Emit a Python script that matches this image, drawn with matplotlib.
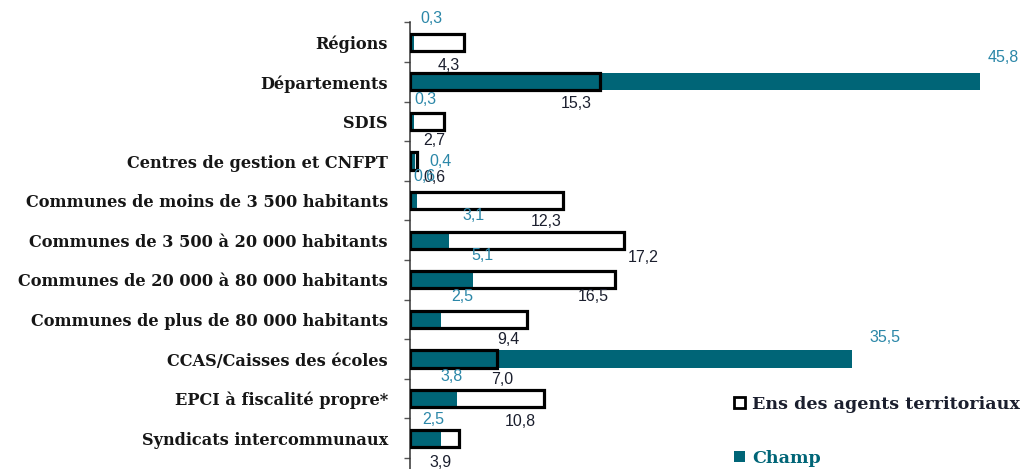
import matplotlib
matplotlib.use("Agg")
import matplotlib.pyplot as plt
from matplotlib.patches import Patch
import numpy as np

categories = [
    "Régions",
    "Départements",
    "SDIS",
    "Centres de gestion et CNFPT",
    "Communes de moins de 3 500 habitants",
    "Communes de 3 500 à 20 000 habitants",
    "Communes de 20 000 à 80 000 habitants",
    "Communes de plus de 80 000 habitants",
    "CCAS/Caisses des écoles",
    "EPCI à fiscalité propre*",
    "Syndicats intercommunaux",
]
ens_values = [4.3, 15.3, 2.7, 0.6, 12.3, 17.2, 16.5, 9.4, 7.0, 10.8, 3.9]
champ_values = [0.3, 45.8, 0.3, 0.4, 0.6, 3.1, 5.1, 2.5, 35.5, 3.8, 2.5]
series_names = ["Ens des agents territoriaux", "Champ"]

# label offsets in pixels (dx from bar end, dy from bar centre; positive dy = downward)
ens_label_off = [(-15, 23), (-24, 22), (-9, 19), (17, 16), (-17, 21), (19, 17),
                 (-22, 17), (-19, 20), (5, 20), (-24, 23), (-18, 24)]
champ_label_off = [(18, -24), (23, -24), (12, -22), (26, 0), (7, -24), (25, -25),
                   (9, -24), (21, -23), (33, -22), (-6, -22), (-8, -19)]

W, H = 1028, 469
fig = plt.figure(figsize=(W / 100, H / 100), dpi=100)
fig.patch.set_facecolor("white")

px_per_unit = 12.446
row_px = 39.6
x0_px = 410
top_px = 22.4
ax = fig.add_axes([x0_px / W, 0, 1 - x0_px / W, 1 - top_px / H])
ax.set_xlim(0, (W - x0_px) / px_per_unit)
ax.set_ylim(-0.5 + (H - top_px) / row_px, -0.5)

teal = "#006577"
teal_txt = "#2b87a8"
dark_txt = "#1b1f2e"

y = np.arange(len(categories))
bh = 0.43
ax.barh(y, ens_values, height=bh, color="white", edgecolor="none", zorder=2)
ax.barh(y, champ_values, height=bh, color=teal, edgecolor="none", zorder=3)
ax.barh(y, ens_values, height=bh, color="none", edgecolor="black", linewidth=2.3, zorder=4)

pt = 0.72
for i in range(len(categories)):
    dx, dy = ens_label_off[i]
    ax.annotate(f"{ens_values[i]:.1f}".replace(".", ","), (ens_values[i], y[i]),
                xytext=(dx * pt, -dy * pt), textcoords="offset points",
                ha="center", va="center", fontsize=11.5, color=dark_txt,
                family="Liberation Sans", zorder=5)
    dx, dy = champ_label_off[i]
    ax.annotate(f"{champ_values[i]:.1f}".replace(".", ","), (champ_values[i], y[i]),
                xytext=(dx * pt, -dy * pt), textcoords="offset points",
                ha="center", va="center", fontsize=11.5, color=teal_txt,
                family="Liberation Sans", zorder=5)

for s in ["top", "right", "bottom"]:
    ax.spines[s].set_visible(False)
ax.spines["left"].set_color("#333333")
ax.spines["left"].set_linewidth(1.1)
ax.set_xticks([])
ax.set_yticks(y)
ax.set_yticklabels(categories, fontsize=11.6, fontweight="bold",
                   family="DejaVu Serif", color="#161616")
ax.tick_params(axis="y", which="major", length=0, pad=16)
ax.set_yticks(np.arange(-0.5, len(categories) + 0.5, 1), minor=True)
ax.tick_params(axis="y", which="minor", length=4, width=1, color="#555555", direction="out")

handles = [Patch(facecolor="white", edgecolor="black", linewidth=2.0),
           Patch(facecolor=teal, edgecolor="none")]
leg = ax.legend(handles, series_names, loc="upper left",
                bbox_to_anchor=((734 - x0_px) / (W - x0_px), (H - 396) / (H - top_px)),
                frameon=False, handlelength=0.6, handleheight=0.6, handletextpad=0.45,
                labelspacing=2.1, prop={"family": "DejaVu Serif", "weight": "bold", "size": 12.6},
                borderpad=0, borderaxespad=0)
for t, c in zip(leg.get_texts(), [dark_txt, teal]):
    t.set_color(c)

fig.savefig("out.png", dpi=100, facecolor="white")
